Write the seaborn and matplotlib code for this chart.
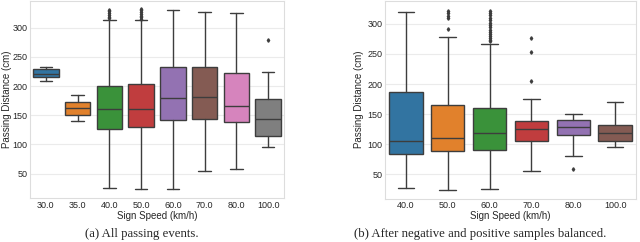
import matplotlib
matplotlib.use("Agg")
import matplotlib.pyplot as plt
import seaborn as sns

# summary statistics (cm)
speeds_a = ["30.0", "35.0", "40.0", "50.0", "60.0", "70.0", "80.0", "100.0"]
whislo_a = [208, 140, 26, 23, 23, 55, 57, 95]
q1_a = [216, 151, 126, 129, 142, 143, 138, 114]
med_a = [221, 162, 160, 161, 179, 181, 166, 143]
q3_a = [229, 173, 201, 203, 233, 232, 223, 178]
whishi_a = [232, 185, 314, 313, 330, 327, 326, 225]
fliers_a = [[], [], [316, 319, 322, 325, 328, 330], [315, 318, 321, 324, 327, 330, 332], [], [], [], [279]]

speeds_b = ["40.0", "50.0", "60.0", "70.0", "80.0", "100.0"]
whislo_b = [27, 24, 25, 56, 80, 96]
q1_b = [84, 89, 90, 105, 116, 105]
med_b = [106, 111, 118, 125, 129, 119]
q3_b = [187, 165, 160, 138, 140, 132]
whishi_b = [319, 279, 267, 176, 150, 170]
fliers_b = [[], [292, 310, 313, 318, 322],
            [271, 274, 277, 280, 283, 286, 290, 294, 298, 302, 306, 310, 314, 318, 322],
            [205, 253, 277], [59], []]

sns.set_theme(style="whitegrid")
plt.rcParams['font.family'] = ['Liberation Sans', 'DejaVu Sans']
palette = sns.color_palette("tab10", desat=0.75)


def draw(ax, labels, lo, q1, med, q3, hi, fl, ylab_x):
    stats = []
    for i, lab in enumerate(labels):
        stats.append(dict(label=lab, whislo=lo[i], q1=q1[i], med=med[i], q3=q3[i],
                          whishi=hi[i], fliers=fl[i]))
    line = dict(color="#3d3d3d", linewidth=1.0)
    bp = ax.bxp(stats, positions=range(len(labels)), widths=0.8, patch_artist=True,
                boxprops=dict(edgecolor="#3d3d3d", linewidth=1.0),
                whiskerprops=line, capprops=line, medianprops=line,
                flierprops=dict(marker="d", markersize=1.8, markerfacecolor="#3d3d3d",
                                markeredgecolor="#3d3d3d"))
    for patch, c in zip(bp["boxes"], palette):
        patch.set_facecolor(c)
    ax.set_xlim(-0.5, len(labels) - 0.5)
    ax.set_xlabel("Sign Speed (km/h)", fontsize=7)
    ax.set_ylabel("Passing Distance (cm)", fontsize=7)
    ax.xaxis.set_label_coords(0.5, -0.064)
    ax.yaxis.set_label_coords(ylab_x, 0.5)
    ax.tick_params(labelsize=6.5, length=0, pad=2)
    ax.grid(True, axis="y", color="#ebebeb", linewidth=0.8)
    ax.grid(False, axis="x")
    for s in ax.spines.values():
        s.set_color("#dddddd")
        s.set_linewidth(0.8)


fig = plt.figure(figsize=(6.4, 2.42), dpi=100)
ax1 = fig.add_axes([30 / 640, 44 / 242, 254 / 640, 197 / 242])
ax2 = fig.add_axes([385 / 640, 43.5 / 242, 251 / 640, 197.5 / 242])

draw(ax1, speeds_a, whislo_a, q1_a, med_a, q3_a, whishi_a, fliers_a, -0.071)
ax1.set_ylim(8, 346)
ax1.set_yticks([50, 100, 150, 200, 250, 300])
draw(ax2, speeds_b, whislo_b, q1_b, med_b, q3_b, whishi_b, fliers_b, -0.084)
ax2.set_ylim(10, 338)
ax2.set_yticks([50, 100, 150, 200, 250, 300])

fig.text(142 / 640, 0.035, "(a) All passing events.", ha="center", va="center",
         family="Liberation Serif", fontsize=9.2)
fig.text(480 / 640, 0.035, "(b) After negative and positive samples balanced.",
         ha="center", va="center", family="Liberation Serif", fontsize=9.2)

fig.savefig("out.png", dpi=100)
